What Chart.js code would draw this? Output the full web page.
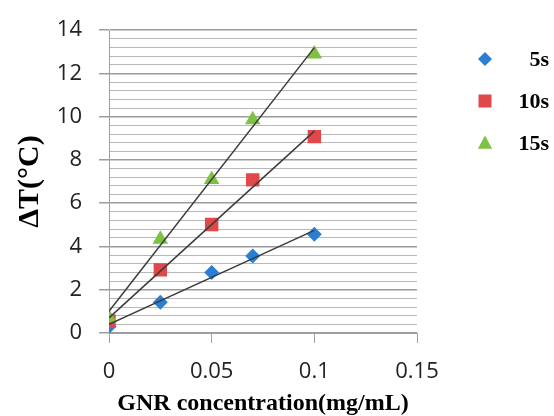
<!DOCTYPE html>
<html>
<head>
<meta charset="utf-8">
<script src="https://cdn.jsdelivr.net/npm/chart.js@4.4.1/dist/chart.umd.min.js"></script>
<style>
  html, body { margin: 0; padding: 0; background: #fff; }
  #wrap { width: 554px; height: 416px; }
</style>
</head>
<body>
<div id="wrap"><canvas id="chart" width="554" height="416"></canvas></div>
<script>
// GNR concentration (mg/mL)
const concentrations = [0, 0.025, 0.05, 0.07, 0.1];

// temperature rise (°C) per irradiation time
const rise5s = [0.3, 1.42, 2.8, 3.56, 4.56];
const rise10s = [0.55, 2.92, 5.02, 7.08, 9.08];
const rise15s = [0.7, 4.34, 7.1, 9.86, 12.9];

const seriesLabels = ['5s', '10s', '15s'];
const xTicks = [0, 0.05, 0.1, 0.15];
const yMajorTicks = [0, 2, 4, 6, 8, 10, 12, 14];

const colors = ['#2a7fd4', '#e0484a', '#7dc242'];
const shapes = ['rectRot', 'rect', 'triangle'];
const radii = [7.5, 9.5, 9];

const serifFont = '"Liberation Serif", "Times New Roman", serif';
const sansFont = '"Open Sans", "Liberation Sans", sans-serif';

// least squares fit, like the spreadsheet trendline
function linearFit(xs, ys) {
    const n = xs.length;
    const mx = xs.reduce((a, b) => a + b, 0) / n;
    const my = ys.reduce((a, b) => a + b, 0) / n;
    let sxy = 0, sxx = 0;
    for (let i = 0; i < n; i++) {
        sxy += (xs[i] - mx) * (ys[i] - my);
        sxx += (xs[i] - mx) * (xs[i] - mx);
    }
    const slope = sxy / sxx;
    const x0 = Math.min(...xs), x1 = Math.max(...xs);
    return [
        { x: x0, y: my + slope * (x0 - mx) },
        { x: x1, y: my + slope * (x1 - mx) }
    ];
}

const allSeries = [rise5s, rise10s, rise15s];

const datasets = [];
allSeries.forEach((ys, i) => {
    datasets.push({
        type: 'scatter',
        label: seriesLabels[i],
        data: concentrations.map((x, j) => ({ x: x, y: ys[j] })),
        backgroundColor: colors[i],
        borderColor: colors[i],
        borderWidth: 0,
        pointStyle: shapes[i],
        pointRadius: radii[i],
        pointHoverRadius: radii[i],
        // later series sit on top, trendlines above all markers
        order: 4 - i
    });
});
allSeries.forEach((ys, i) => {
    datasets.push({
        type: 'line',
        label: seriesLabels[i] + ' fit',
        data: linearFit(concentrations, ys),
        borderColor: '#3c3c3c',
        borderWidth: 1.5,
        pointRadius: 0,
        fill: false,
        order: 1
    });
});

function isMajor(v) {
    return Math.abs(v / 2 - Math.round(v / 2)) < 1e-6;
}

function drawMarker(ctx, shape, x, y, r, color) {
    ctx.save();
    ctx.fillStyle = color;
    ctx.beginPath();
    if (shape === 'rectRot') {
        ctx.moveTo(x, y - r);
        ctx.lineTo(x + r, y);
        ctx.lineTo(x, y + r);
        ctx.lineTo(x - r, y);
    } else if (shape === 'rect') {
        ctx.rect(x - r, y - r, 2 * r, 2 * r);
    } else {
        ctx.moveTo(x, y - r);
        ctx.lineTo(x + r * 0.95, y + r * 0.75);
        ctx.lineTo(x - r * 0.95, y + r * 0.75);
    }
    ctx.closePath();
    ctx.fill();
    ctx.restore();
}

// legend at the top right, as in the original figure
const sideLegend = {
    id: 'sideLegend',
    afterDraw(chart) {
        const ctx = chart.ctx;
        const rows = [59, 101, 143];
        const legendSizes = [7, 6.5, 7.5];
        ctx.save();
        ctx.font = 'bold 22px ' + serifFont;
        ctx.fillStyle = '#000';
        ctx.textAlign = 'right';
        ctx.textBaseline = 'middle';
        seriesLabels.forEach((label, i) => {
            drawMarker(ctx, shapes[i], 485, rows[i], legendSizes[i], colors[i]);
            ctx.fillText(label, 549, rows[i] + 1);
        });
        ctx.restore();
    }
};

new Chart(document.getElementById('chart'), {
    data: { datasets: datasets },
    options: {
        responsive: false,
        animation: false,
        events: [],
        layout: { padding: { left: 0, top: 26, right: 137, bottom: 0 } },
        plugins: {
            legend: { display: false },
            tooltip: { enabled: false }
        },
        scales: {
            x: {
                type: 'linear',
                min: 0,
                max: 0.15,
                afterFit: scale => { scale.height = 83; },
                afterBuildTicks: scale => { scale.ticks = xTicks.map(v => ({ value: v })); },
                ticks: {
                    padding: 16,
                    color: '#222',
                    font: { family: sansFont, size: 22 },
                    callback: v => String(+Number(v).toFixed(3))
                },
                grid: {
                    drawOnChartArea: false,
                    drawTicks: true,
                    tickLength: 10,
                    color: '#a0a0a0',
                    tickColor: '#a0a0a0'
                },
                border: { display: true, color: '#a0a0a0', width: 1 },
                title: {
                    display: true,
                    text: 'GNR concentration(mg/mL)',
                    color: '#000',
                    font: { family: serifFont, size: 24, weight: 'bold', lineHeight: 1 },
                    padding: { top: 0, bottom: 0 }
                }
            },
            y: {
                type: 'linear',
                min: 0,
                max: 14,
                afterFit: scale => { scale.width = 109; },
                afterBuildTicks: scale => {
                    const ticks = [];
                    for (let i = 0; i <= 35; i++) ticks.push({ value: Math.round(i * 4) / 10 });
                    scale.ticks = ticks;
                },
                ticks: {
                    autoSkip: false,
                    padding: 17,
                    color: '#222',
                    font: { family: sansFont, size: 22 },
                    callback: v => (isMajor(v) && yMajorTicks.includes(Math.round(v))) ? String(Math.round(v)) : ''
                },
                grid: {
                    drawTicks: true,
                    tickLength: 10,
                    color: c => isMajor(c.tick.value) ? '#9c9c9c' : '#b8b8b8',
                    lineWidth: c => isMajor(c.tick.value) ? 1.5 : 1,
                    tickColor: c => isMajor(c.tick.value) ? '#9c9c9c' : 'rgba(0,0,0,0)'
                },
                border: { display: true, color: '#a0a0a0', width: 1 },
                title: {
                    display: true,
                    text: 'ΔT(°C)',
                    color: '#000',
                    font: { family: serifFont, size: 30, weight: 'bold', lineHeight: 1.2 },
                    padding: { top: 12, bottom: 0 }
                }
            }
        }
    },
    plugins: [sideLegend]
});
</script>
</body>
</html>
